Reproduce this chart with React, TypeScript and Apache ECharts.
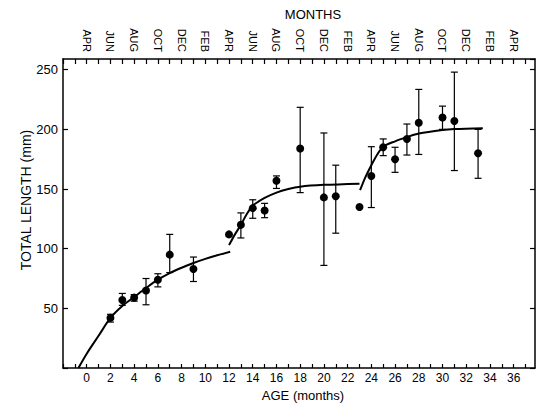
import React, { useEffect, useRef } from "react";
import * as echarts from "echarts";

// Observed data (age in months, mean total length in mm, error-bar limits)
const ages = [2, 3, 4, 5, 6, 7, 9, 12, 13, 14, 15, 16, 18, 20, 21, 23, 24, 25, 26, 27, 28, 30, 31, 33];
const means = [42, 57, 59, 65, 74, 95, 83, 112, 120, 134, 132, 157, 184, 143, 144, 135, 161, 185, 175, 192, 205.5, 210, 207, 180];
const lows = [38.5, 52.5, 56, 53, 68, 80, 72.5, null, 109, 125.5, 126, 150.5, 147, 86, 113, null, 134.5, 178, 164, 178.5, 179, 200, 165.5, 159];
const highs = [45, 62.5, 61.5, 75, 79, 112, 93, null, 130, 141, 138, 161, 218.5, 197, 170, null, 185.5, 192, 185, 204.5, 233.5, 219.5, 248, 200];

// Fitted growth curves
const curve1Ages = [-0.7, 0, 1, 2, 3, 4, 5, 6, 7, 8, 9, 10, 11, 12.1];
const curve1Vals = [0, 12, 27, 42, 52, 59.5, 67, 74, 79.5, 84, 88, 91.5, 94.5, 97.5];
const curve2Ages = [12.0, 12.5, 13, 13.5, 14, 15, 16, 17, 18, 20, 23];
const curve2Vals = [103, 112, 120, 129, 136, 142.5, 147, 150, 152, 153.5, 154.5];
const curve3Ages = [23.05, 23.5, 24, 24.5, 25, 26, 27, 28, 30, 31, 33.4];
const curve3Vals = [149, 160, 170, 179, 185.5, 190, 193.5, 196.5, 199.5, 200.3, 201];

// Top axis month labels at ages 0, 2, 4, ... 36
const monthLabels = ["APR", "JUN", "AUG", "OCT", "DEC", "FEB", "APR", "JUN", "AUG", "OCT", "DEC", "FEB", "APR", "JUN", "AUG", "OCT", "DEC", "FEB", "APR"];

const FONT = '"Liberation Sans", Arial, sans-serif';
const INK = "#000";

export default function App() {
  const ref = useRef<HTMLDivElement>(null);

  useEffect(() => {
    if (!ref.current) return;
    const chart = echarts.init(ref.current, undefined, { renderer: "svg" });

    const pts = ages.map((a, i) => [a, means[i]]);
    const errs = ages
      .map((a, i) => [a, lows[i], highs[i]])
      .filter((d) => d[1] !== null && d[2] !== null);
    const c1 = curve1Ages.map((a, i) => [a, curve1Vals[i]]);
    const c2 = curve2Ages.map((a, i) => [a, curve2Vals[i]]);
    const c3 = curve3Ages.map((a, i) => [a, curve3Vals[i]]);

    const xCommon = {
      type: "value" as const,
      min: -2,
      max: 37.8,
      interval: 1,
      splitLine: { show: false },
      axisLine: { show: true, onZero: false, lineStyle: { color: INK, width: 1.5 } },
      axisTick: { show: true, inside: true, length: 4, lineStyle: { color: INK, width: 1.2 } },
    };
    const yCommon = {
      type: "value" as const,
      min: 0,
      max: 259,
      interval: 50,
      splitLine: { show: false },
      axisLine: { show: true, onZero: false, lineStyle: { color: INK, width: 1.5 } },
      axisTick: { show: true, inside: true, length: 5, lineStyle: { color: INK, width: 1.2 } },
    };

    const lineSeries = (data: number[][]) => ({
      type: "line" as const,
      data,
      showSymbol: false,
      smooth: 0.3,
      lineStyle: { color: INK, width: 2 },
      xAxisIndex: 0,
      yAxisIndex: 0,
      z: 2,
    });

    chart.setOption({
      animation: false,
      backgroundColor: "#fff",
      grid: { left: 63, right: 8, top: 59, bottom: 39, containLabel: false },
      xAxis: [
        {
          ...xCommon,
          position: "bottom",
          axisLabel: {
            show: true,
            margin: 4,
            color: INK,
            fontSize: 12,
            fontFamily: FONT,
            showMaxLabel: false,
            formatter: (v: number) => (v >= 0 && v <= 36 && v % 2 === 0 ? String(v) : ""),
          },
        },
        {
          ...xCommon,
          position: "top",
          axisTick: { show: true, inside: true, length: 5, lineStyle: { color: INK, width: 1.2 } },
          axisLabel: {
            show: true,
            rotate: 90,
            margin: 7,
            color: INK,
            fontSize: 11,
            fontFamily: FONT,
            showMaxLabel: false,
            formatter: (v: number) => (v >= 0 && v <= 36 && v % 2 === 0 ? monthLabels[v / 2] : ""),
          },
        },
      ],
      yAxis: [
        {
          ...yCommon,
          position: "left",
          name: "TOTAL LENGTH (mm)",
          nameLocation: "middle",
          nameRotate: 90,
          nameGap: 30.5,
          nameMoveOverlap: false,
          nameTextStyle: { color: "rgba(0,0,0,0.99)", fontSize: 14, fontFamily: FONT, padding: [0, 0, 0, 27] },
          axisLabel: {
            show: true,
            margin: 5,
            color: INK,
            fontSize: 13,
            fontFamily: FONT,
            showMaxLabel: false,
            formatter: (v: number) => (v > 0 && v % 50 === 0 ? String(v) : ""),
          },
        },
        {
          ...yCommon,
          position: "right",
          axisLabel: { show: false },
        },
      ],
      graphic: [
        {
          type: "text",
          x: 313,
          y: 14,
          style: { text: "MONTHS", fontSize: 13, fontFamily: FONT, fill: INK, align: "center", verticalAlign: "middle" },
        },
        {
          type: "text",
          x: 303,
          y: 395,
          style: { text: "AGE (months)", fontSize: 13, fontFamily: FONT, fill: INK, align: "center", verticalAlign: "middle" },
        },
      ],
      series: [
        lineSeries(c1),
        lineSeries(c2),
        lineSeries(c3),
        {
          type: "custom",
          xAxisIndex: 0,
          yAxisIndex: 0,
          data: errs,
          encode: { x: 0, y: [1, 2] },
          z: 3,
          renderItem: (_params: any, api: any) => {
            const x = api.value(0);
            const lo = api.coord([x, api.value(1)]);
            const hi = api.coord([x, api.value(2)]);
            const w = 3.5;
            const st = { stroke: INK, lineWidth: 1.2 };
            return {
              type: "group",
              children: [
                { type: "line", shape: { x1: lo[0], y1: lo[1], x2: hi[0], y2: hi[1] }, style: st },
                { type: "line", shape: { x1: lo[0] - w, y1: lo[1], x2: lo[0] + w, y2: lo[1] }, style: st },
                { type: "line", shape: { x1: hi[0] - w, y1: hi[1], x2: hi[0] + w, y2: hi[1] }, style: st },
              ],
            };
          },
        },
        {
          type: "scatter",
          xAxisIndex: 0,
          yAxisIndex: 0,
          data: pts,
          symbol: "circle",
          symbolSize: 8,
          itemStyle: { color: INK, opacity: 1 },
          emphasis: { disabled: true },
          z: 4,
        },
      ],
    });

    return () => chart.dispose();
  }, []);

  return (
    <div
      ref={ref}
      style={{ position: "fixed", left: 0, top: 0, width: 543, height: 407, background: "#fff" }}
    />
  );
}
